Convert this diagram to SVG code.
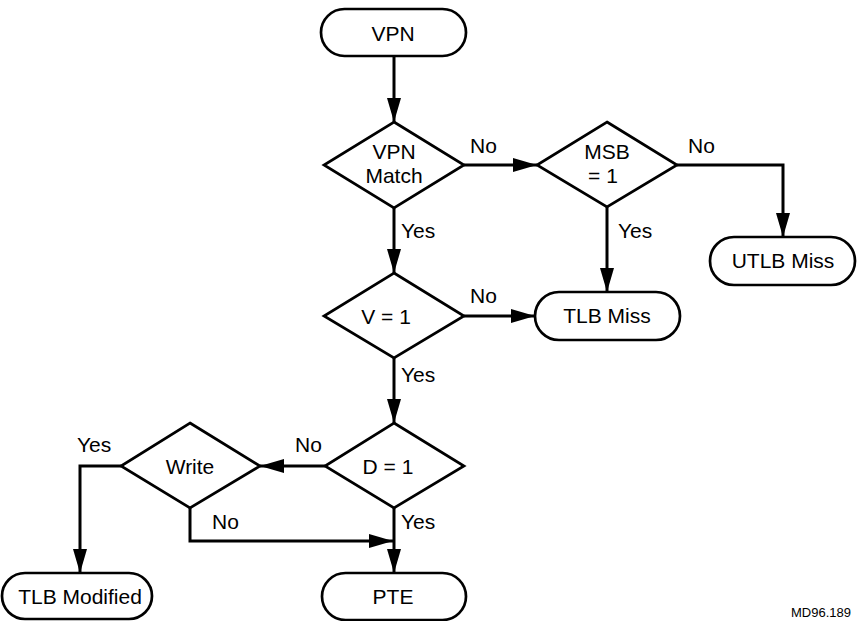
<svg xmlns="http://www.w3.org/2000/svg" width="857" height="621" viewBox="0 0 857 621">
  <style>
    .shape { fill: #fff; stroke: #000; stroke-width: 2.7; }
    .wire { fill: none; stroke: #000; stroke-width: 3; }
    text { font-family: "Liberation Sans", Arial, sans-serif; font-size: 21px; fill: #000; }
    .c { text-anchor: middle; }
    .tag { font-size: 13px; text-anchor: end; }
  </style>
  <defs>
    <marker id="arrow" markerUnits="userSpaceOnUse" viewBox="0 0 24 14" refX="24" refY="7" markerWidth="24" markerHeight="14" orient="auto">
      <path d="M0,0 L24,7 L0,14 z" fill="#000"/>
    </marker>
  </defs>
  <rect width="857" height="621" fill="#fff"/>

  <!-- connectors -->
  <g id="connectors">
    <line class="wire" x1="394" y1="57" x2="394" y2="122" marker-end="url(#arrow)"/>
    <line class="wire" x1="464" y1="165" x2="537" y2="165" marker-end="url(#arrow)"/>
    <polyline class="wire" points="677,165 783,165 783,237" marker-end="url(#arrow)"/>
    <line class="wire" x1="607" y1="207" x2="607" y2="292" marker-end="url(#arrow)"/>
    <line class="wire" x1="394" y1="208" x2="394" y2="273" marker-end="url(#arrow)"/>
    <line class="wire" x1="464" y1="316" x2="535" y2="316" marker-end="url(#arrow)"/>
    <line class="wire" x1="394" y1="358" x2="394" y2="423" marker-end="url(#arrow)"/>
    <line class="wire" x1="325" y1="466" x2="260" y2="466" marker-end="url(#arrow)"/>
    <polyline class="wire" points="121,466 80,466 80,573" marker-end="url(#arrow)"/>
    <polyline class="wire" points="190,508 190,541 393,541" marker-end="url(#arrow)"/>
    <line class="wire" x1="394" y1="508" x2="394" y2="573" marker-end="url(#arrow)"/>

    <text x="470" y="153">No</text>
    <text x="688" y="153">No</text>
    <text x="618" y="238">Yes</text>
    <text x="401" y="238">Yes</text>
    <text x="470" y="303">No</text>
    <text x="401" y="382">Yes</text>
    <text x="295" y="452">No</text>
    <text x="77" y="452">Yes</text>
    <text x="212" y="529">No</text>
    <text x="401" y="529">Yes</text>
  </g>

  <!-- nodes -->
  <g id="vpn">
    <rect class="shape" x="321" y="9" width="145" height="47" rx="23.5"/>
    <text class="c" x="393" y="41">VPN</text>
  </g>
  <g id="vpn-match">
    <polygon class="shape" points="394,122 464,165 394,208 324,165"/>
    <text class="c" x="394" y="159">VPN</text>
    <text class="c" x="394" y="183">Match</text>
  </g>
  <g id="msb">
    <polygon class="shape" points="607,122 677,165 607,207 537,165"/>
    <text class="c" x="607" y="159">MSB</text>
    <text class="c" x="603" y="183">= 1</text>
  </g>
  <g id="utlb-miss">
    <rect class="shape" x="710" y="237" width="145" height="48" rx="24"/>
    <text class="c" x="783" y="268">UTLB Miss</text>
  </g>
  <g id="tlb-miss">
    <rect class="shape" x="535" y="292" width="145" height="48" rx="24"/>
    <text class="c" x="607" y="323">TLB Miss</text>
  </g>
  <g id="v1">
    <polygon class="shape" points="394,273 464,316 394,358 324,316"/>
    <text class="c" x="386" y="324">V = 1</text>
  </g>
  <g id="d1">
    <polygon class="shape" points="394,423 464,466 394,508 325,466"/>
    <text class="c" x="388" y="474">D = 1</text>
  </g>
  <g id="write">
    <polygon class="shape" points="190,423 260,466 190,508 121,466"/>
    <text class="c" x="190" y="474">Write</text>
  </g>
  <g id="tlb-modified">
    <rect class="shape" x="2" y="573" width="150" height="46" rx="23"/>
    <text class="c" x="80" y="604">TLB Modified</text>
  </g>
  <g id="pte">
    <rect class="shape" x="322" y="573" width="144" height="47" rx="23.5"/>
    <text class="c" x="393" y="604">PTE</text>
  </g>

  <text class="tag" x="851" y="617">MD96.189</text>
</svg>
